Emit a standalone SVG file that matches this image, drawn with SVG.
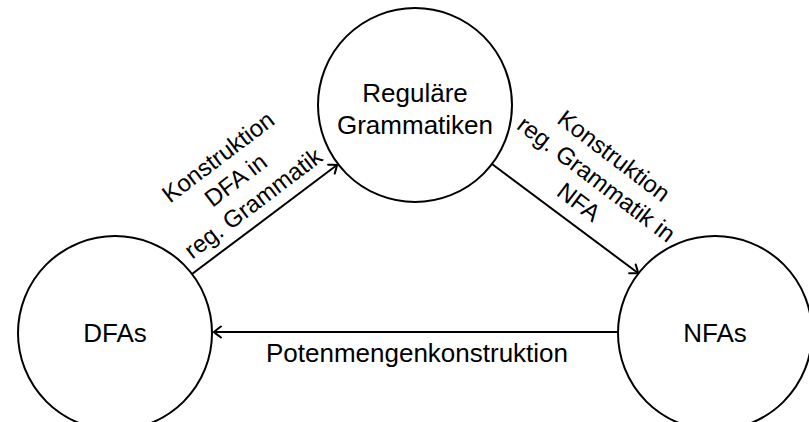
<svg xmlns="http://www.w3.org/2000/svg" width="809" height="422" viewBox="0 0 809 422">
<defs>
<style>
.node{fill:#fff;stroke:#000;stroke-width:2}
.lbl{font-family:"Liberation Sans",Arial,sans-serif;font-size:26px;fill:#000;text-anchor:middle}
.elbl{font-family:"Liberation Sans",Arial,sans-serif;font-size:24px;fill:#000;text-anchor:middle}
.edge{fill:none;stroke:#000;stroke-width:2}
</style>
<marker id="to" markerUnits="userSpaceOnUse" markerWidth="20" markerHeight="20" viewBox="-10 -10 20 20" refX="0" refY="0" orient="auto">
<path d="M -7 -5.5 Q -1.5 -1.5 0 0 Q -1.5 1.5 -7 5.5" fill="none" stroke="#000" stroke-width="2" stroke-linecap="round"/>
</marker>
</defs>
<rect width="809" height="422" fill="#fff"/>
<g id="reg">
<circle class="node" cx="415" cy="105" r="97"/>
<text class="lbl" x="415" y="102">Reguläre</text>
<text class="lbl" x="415" y="134">Grammatiken</text>
</g>
<g id="dfa">
<circle class="node" cx="115" cy="333" r="97"/>
<text class="lbl" x="115" y="342">DFAs</text>
</g>
<g id="nfa">
<circle class="node" cx="715" cy="333" r="97"/>
<text class="lbl" x="715" y="342">NFAs</text>
</g>
<g id="edges">
<line class="edge" x1="192" y1="274" x2="337" y2="165" marker-end="url(#to)"/>
<line class="edge" x1="492" y1="164" x2="638" y2="273" marker-end="url(#to)"/>
<line class="edge" x1="618" y1="332" x2="214" y2="332" marker-end="url(#to)"/>
<g transform="translate(266,220) rotate(-37.2)">
<text class="elbl" x="0" y="-13">reg. Grammatik</text>
<text class="elbl" x="0" y="-42">DFA in</text>
<text class="elbl" x="0" y="-71">Konstruktion</text>
</g>
<g transform="translate(566,219) rotate(37.2)">
<text class="elbl" x="0" y="-13">NFA</text>
<text class="elbl" x="0" y="-42">reg. Grammatik in</text>
<text class="elbl" x="0" y="-71">Konstruktion</text>
</g>
<text class="lbl" x="417" y="362">Potenmengenkonstruktion</text>
</g>
</svg>
